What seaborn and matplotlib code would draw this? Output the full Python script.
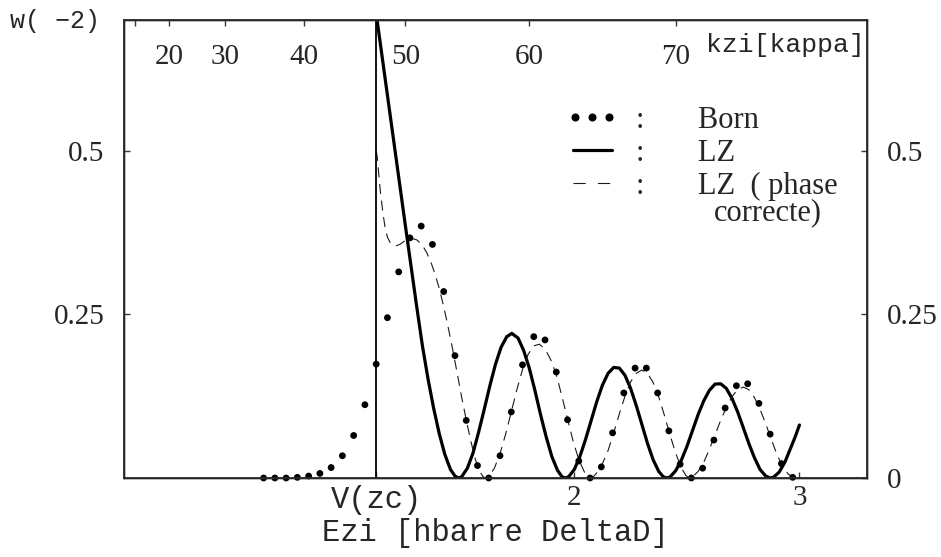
import matplotlib
matplotlib.use("Agg")
import matplotlib.pyplot as plt
from matplotlib.lines import Line2D
from matplotlib.legend_handler import HandlerLine2D
import seaborn as sns

# ---------------- data ----------------
vzc = 1.12  # position of V(zc) on the energy axis

born_E = [0.62, 0.67, 0.72, 0.77, 0.82, 0.87, 0.92, 0.97, 1.02, 1.07,
          1.12, 1.17, 1.22, 1.27, 1.32, 1.37, 1.42, 1.47, 1.52, 1.57,
          1.62, 1.67, 1.72, 1.77, 1.82, 1.87, 1.92, 1.97, 2.02, 2.07,
          2.12, 2.17, 2.22, 2.27, 2.32, 2.37, 2.42, 2.47, 2.52, 2.57,
          2.62, 2.67, 2.72, 2.77, 2.82, 2.87, 2.92, 2.97]
born_w = [0.000, 0.000, 0.000, 0.001, 0.003, 0.007, 0.016, 0.034, 0.065, 0.112,
          0.174, 0.245, 0.315, 0.367, 0.385, 0.357, 0.285, 0.187, 0.088, 0.019,
          0.000, 0.034, 0.101, 0.173, 0.216, 0.211, 0.162, 0.089, 0.026, 0.000,
          0.017, 0.069, 0.130, 0.168, 0.168, 0.130, 0.072, 0.021, 0.000, 0.015,
          0.058, 0.107, 0.141, 0.144, 0.114, 0.067, 0.022, 0.001]

lz_E = [1.12, 1.15, 1.20, 1.25, 1.30, 1.325, 1.35, 1.375, 1.40, 1.425, 1.45, 1.47, 1.485,
        1.50, 1.525, 1.55, 1.575, 1.60, 1.625, 1.65, 1.675, 1.70, 1.7225, 1.75, 1.775,
        1.80, 1.825, 1.85, 1.875, 1.90, 1.925, 1.945, 1.96,
        1.975, 2.00, 2.025, 2.05, 2.075, 2.10, 2.125, 2.15, 2.175, 2.20, 2.225, 2.25,
        2.275, 2.30, 2.325, 2.35, 2.375, 2.395, 2.41,
        2.425, 2.45, 2.475, 2.50, 2.525, 2.55, 2.575, 2.60, 2.625, 2.65, 2.675, 2.70,
        2.725, 2.75, 2.775, 2.80, 2.825, 2.85, 2.87,
        2.885, 2.91, 2.935, 2.96, 2.98, 3.00]
lz_w = [0.71, 0.635, 0.51, 0.385, 0.262, 0.203, 0.152, 0.107, 0.068, 0.036, 0.013, 0.003, 0.0,
        0.002, 0.015, 0.038, 0.070, 0.105, 0.141, 0.174, 0.200, 0.216, 0.221, 0.214, 0.195,
        0.168, 0.134, 0.097, 0.063, 0.033, 0.012, 0.002, 0.0,
        0.002, 0.013, 0.033, 0.059, 0.088, 0.117, 0.142, 0.160, 0.169, 0.168, 0.157, 0.137,
        0.111, 0.082, 0.053, 0.028, 0.010, 0.002, 0.0,
        0.0015, 0.011, 0.027, 0.048, 0.0725, 0.097, 0.118, 0.134, 0.1435, 0.144, 0.137, 0.122,
        0.1015, 0.0775, 0.053, 0.031, 0.013, 0.003, 0.0,
        0.0013, 0.009, 0.024, 0.045, 0.062, 0.081]

lzp_E = [1.12, 1.125, 1.13, 1.138, 1.15, 1.16, 1.17, 1.182, 1.195, 1.209,
         1.225, 1.241, 1.26, 1.28, 1.30, 1.325, 1.345, 1.365, 1.38, 1.40,
         1.42, 1.44, 1.46, 1.48, 1.50, 1.52, 1.54, 1.56, 1.58, 1.595, 1.605,
         1.62, 1.645, 1.67, 1.695, 1.72, 1.745, 1.77, 1.795, 1.82, 1.845,
         1.87, 1.895, 1.92, 1.945, 1.97, 1.995, 2.02, 2.045, 2.07,
         2.085, 2.10, 2.125, 2.15, 2.175, 2.20, 2.225, 2.25, 2.275, 2.30,
         2.325, 2.35, 2.375, 2.40, 2.425, 2.45, 2.475, 2.495, 2.51,
         2.525, 2.55, 2.575, 2.60, 2.625, 2.65, 2.675, 2.70, 2.725, 2.75,
         2.775, 2.80, 2.825, 2.85, 2.875, 2.90, 2.925, 2.95, 2.975, 3.00]
lzp_w = [0.50, 0.49, 0.47, 0.44, 0.405, 0.382, 0.368, 0.36, 0.356, 0.355,
         0.357, 0.361, 0.365, 0.366, 0.364, 0.356, 0.344, 0.328, 0.313, 0.29,
         0.262, 0.23, 0.196, 0.16, 0.123, 0.089, 0.057, 0.029, 0.01, 0.002, 0.0,
         0.002, 0.015, 0.037, 0.067, 0.101, 0.135, 0.166, 0.189, 0.202, 0.2045,
         0.197, 0.181, 0.158, 0.125, 0.09, 0.056, 0.028, 0.009, 0.0,
         0.002, 0.008, 0.022, 0.042, 0.069, 0.098, 0.125, 0.147, 0.16, 0.165,
         0.16, 0.146, 0.124, 0.096, 0.066, 0.038, 0.016, 0.004, 0.0,
         0.002, 0.01, 0.024, 0.044, 0.066, 0.088, 0.108, 0.124, 0.135, 0.139,
         0.135, 0.123, 0.105, 0.083, 0.059, 0.036, 0.018, 0.006, 0.0, 0.005]

bottom_ticks = [vzc, 2, 3]
bottom_labels = ["V(zc)", "2", "3"]
left_ticks = [0.25, 0.5]
left_labels = ["0.25", "0.5"]
right_ticks = [0, 0.25, 0.5]
right_labels = ["0", "0.25", "0.5"]
kzi_ticks_E = [0.05, 0.20, 0.45, 0.80, 1.25, 1.80, 2.45]
kzi_labels = ["", "20", "30", "40", "50", "60", "70"]

# ---------------- style ----------------
sns.set_theme(style="white")
plt.rcParams["font.family"] = ["Liberation Serif", "DejaVu Serif"]
SERIF = ["Liberation Serif", "DejaVu Serif"]
MONO = ["Liberation Mono", "DejaVu Sans Mono"]
FS = 21
SPINE = "#3a3a3a"
DASH = (0, (9, 6))
LEG_DASH = (0, (11, 11))

fig = plt.figure(figsize=(9.41, 5.57), dpi=100)
ax = fig.add_axes([124 / 941, 1 - 478 / 557, 743 / 941, 458 / 557])

sns.lineplot(x=lz_E, y=lz_w, ax=ax, color="black", lw=2.3, estimator=None, sort=False)
sns.lineplot(x=lzp_E, y=lzp_w, ax=ax, color="#1a1a1a", lw=0.8, estimator=None,
             sort=False, linestyle=DASH)
sns.scatterplot(x=born_E, y=born_w, ax=ax, color="black", s=24, edgecolor="none",
                clip_on=False, zorder=5)
ax.axvline(vzc, color="black", lw=1.3)

ax.set_xlim(0, 3.3)
ax.set_ylim(0, 0.70)

for sp in ax.spines.values():
    sp.set_color(SPINE)
    sp.set_linewidth(1.0)

ax.set_xticks(bottom_ticks)
ax.set_xticklabels(bottom_labels)
ax.tick_params(axis="x", direction="in", length=4, width=1, color=SPINE,
               labelsize=FS, pad=5, top=False)
xl = ax.get_xticklabels()
xl[0].set_fontfamily(MONO)
xl[0].set_fontsize(22)
ax.set_yticks(left_ticks)
ax.set_yticklabels(left_labels)
ax.tick_params(axis="y", direction="in", length=4, width=1, color=SPINE,
               labelsize=FS, pad=14)
ax.set_xlabel("Ezi [hbarre DeltaD]", fontfamily=MONO, fontsize=22, labelpad=2)
ax.set_ylabel("")

axr = ax.twinx()
axr.set_ylim(0, 0.70)
axr.set_yticks(right_ticks)
axr.set_yticklabels(right_labels)
axr.tick_params(axis="y", direction="in", length=4, width=1, color=SPINE,
                labelsize=FS, pad=14)
axr.grid(False)
for sp in axr.spines.values():
    sp.set_color(SPINE)
    sp.set_linewidth(1.0)

axt = ax.twiny()
axt.set_xlim(0, 3.3)
axt.set_xticks(kzi_ticks_E)
axt.set_xticklabels(kzi_labels)
axt.tick_params(axis="x", direction="in", length=4, width=1, color=SPINE,
                labelsize=FS, pad=-36)
axt.grid(False)

ax.text((706 - 124) / 743, (478 - 52) / 458, "kzi[kappa]", transform=ax.transAxes,
        fontfamily=MONO, fontsize=19, ha="left", va="baseline")
fig.text(10 / 941, 1 - 21 / 557, "w( \u22122)", fontfamily=MONO, fontsize=18,
         ha="left", va="center")

handles = [Line2D([], [], marker="o", ls="none", color="black", ms=4.8),
           Line2D([], [], color="black", lw=2.3),
           Line2D([], [], color="#1a1a1a", lw=0.8, ls=LEG_DASH)]
labels = [":       Born", ":       LZ", ":       LZ  ( phase"]
hmap = {handles[0]: HandlerLine2D(marker_pad=0.08, numpoints=3),
        handles[1]: HandlerLine2D(marker_pad=0.0, numpoints=2),
        handles[2]: HandlerLine2D(marker_pad=0.0, numpoints=2)}
leg = ax.legend(handles, labels, frameon=False, loc="upper left",
                bbox_to_anchor=(0.604, 0.812), borderpad=0, borderaxespad=0,
                handlelength=1.28, handletextpad=0.8, labelspacing=0.13,
                handler_map=hmap, prop={"family": SERIF, "size": 22})
ax.text((714 - 124) / 743, (478 - 213) / 458, "correcte)", transform=ax.transAxes,
        fontfamily=SERIF, fontsize=22, ha="left", va="center")

fig.savefig("out.png", dpi=100)
